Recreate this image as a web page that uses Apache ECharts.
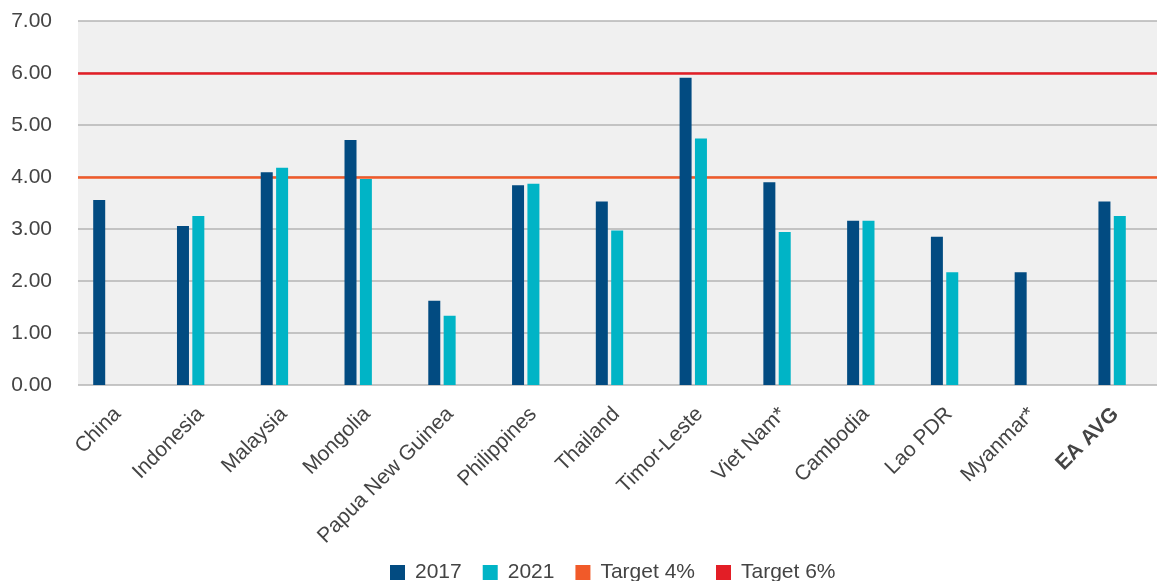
<!DOCTYPE html>
<html>
<head>
<meta charset="utf-8">
<script src="https://cdn.jsdelivr.net/npm/echarts@6/dist/echarts.min.js"></script>
<style>html,body{margin:0;padding:0;background:#fff}#c{width:1157px;height:581px}</style>
</head>
<body>
<div id="c"></div>
<script>
const categories = ['China','Indonesia','Malaysia','Mongolia','Papua New Guinea','Philippines','Thailand','Timor-Leste','Viet Nam*','Cambodia','Lao PDR','Myanmar*','EA AVG'];
const values2017 = [3.56, 3.06, 4.09, 4.71, 1.62, 3.84, 3.53, 5.91, 3.90, 3.16, 2.85, 2.17, 3.53];
const values2021 = [null, 3.25, 4.18, 3.96, 1.33, 3.87, 2.97, 4.74, 2.94, 3.16, 2.17, null, 3.25];
const target4 = 4;
const target6 = 6;
const yTicks = [0, 1, 2, 3, 4, 5, 6, 7];

const FONT = '"Liberation Sans", Arial, sans-serif';
const FS = 21;
const chart = echarts.init(document.getElementById('c'));
chart.setOption({
  animation: false,
  textStyle: { fontFamily: FONT },
  grid: [
    { left: 78, right: 0, top: 21, height: 364, show: true, backgroundColor: '#f0f0f0', borderWidth: 0 },
    { left: 65, width: 1089, top: 21, height: 364 },
    { left: 76, width: 1089, top: 21, height: 364 }
  ],
  legend: {
    left: 385, top: 557, icon: 'rect', itemWidth: 15, itemHeight: 15, itemGap: 21,
    textStyle: { fontSize: FS, color: '#444', fontFamily: FONT, padding: [0, 0, 0, 5] },
    data: ['2017', '2021', 'Target 4%', 'Target 6%']
  },
  xAxis: [
    { type: 'category', gridIndex: 0, data: categories, show: false },
    { type: 'category', gridIndex: 1, data: categories, show: false },
    {
      type: 'category', gridIndex: 2, data: categories,
      axisLine: { show: false }, axisTick: { show: false },
      axisLabel: {
        rotate: 45, interval: 0, fontSize: FS, color: '#444', fontFamily: FONT, margin: 26,
        formatter: function (v) { return v === 'EA AVG' ? '{b|' + v + '}' : v; },
        rich: { b: { fontWeight: 'bold', fontSize: FS, color: '#444', fontFamily: FONT } }
      }
    }
  ],
  yAxis: [
    {
      type: 'value', gridIndex: 0, min: yTicks[0], max: yTicks[yTicks.length - 1], interval: 1,
      axisLine: { show: false }, axisTick: { show: false },
      axisLabel: { fontSize: FS, color: '#444', margin: 26, fontFamily: FONT, formatter: function (v) { return v.toFixed(2); } },
      splitLine: { show: true, lineStyle: { color: '#b4b4b4', width: 1.5 } }
    },
    { type: 'value', gridIndex: 1, min: 0, max: 7, interval: 1, show: false, splitLine: { show: false } },
    { type: 'value', gridIndex: 2, min: 0, max: 7, interval: 1, show: false, splitLine: { show: false } }
  ],
  series: [
    {
      name: '2017', type: 'bar', xAxisIndex: 1, yAxisIndex: 1, data: values2017,
      barWidth: 12, barGap: '28%', z: 5,
      itemStyle: { color: '#024b81' }
    },
    {
      name: '2021', type: 'bar', xAxisIndex: 1, yAxisIndex: 1, data: values2021,
      barWidth: 12, barGap: '28%', z: 5,
      itemStyle: { color: '#00b4c6' }
    },
    {
      name: 'Target 4%', type: 'line', xAxisIndex: 0, yAxisIndex: 0, data: [], z: 3,
      itemStyle: { color: '#f15a29' }, lineStyle: { color: '#f15a29' },
      markLine: { silent: true, symbol: 'none', label: { show: false },
        lineStyle: { color: '#f15a29', width: 2.5, type: 'solid' }, data: [{ yAxis: target4 }] }
    },
    {
      name: 'Target 6%', type: 'line', xAxisIndex: 0, yAxisIndex: 0, data: [], z: 3,
      itemStyle: { color: '#e31e26' }, lineStyle: { color: '#e31e26' },
      markLine: { silent: true, symbol: 'none', label: { show: false },
        lineStyle: { color: '#e31e26', width: 2.5, type: 'solid' }, data: [{ yAxis: target6 }] }
    }
  ]
});
</script>
</body>
</html>
